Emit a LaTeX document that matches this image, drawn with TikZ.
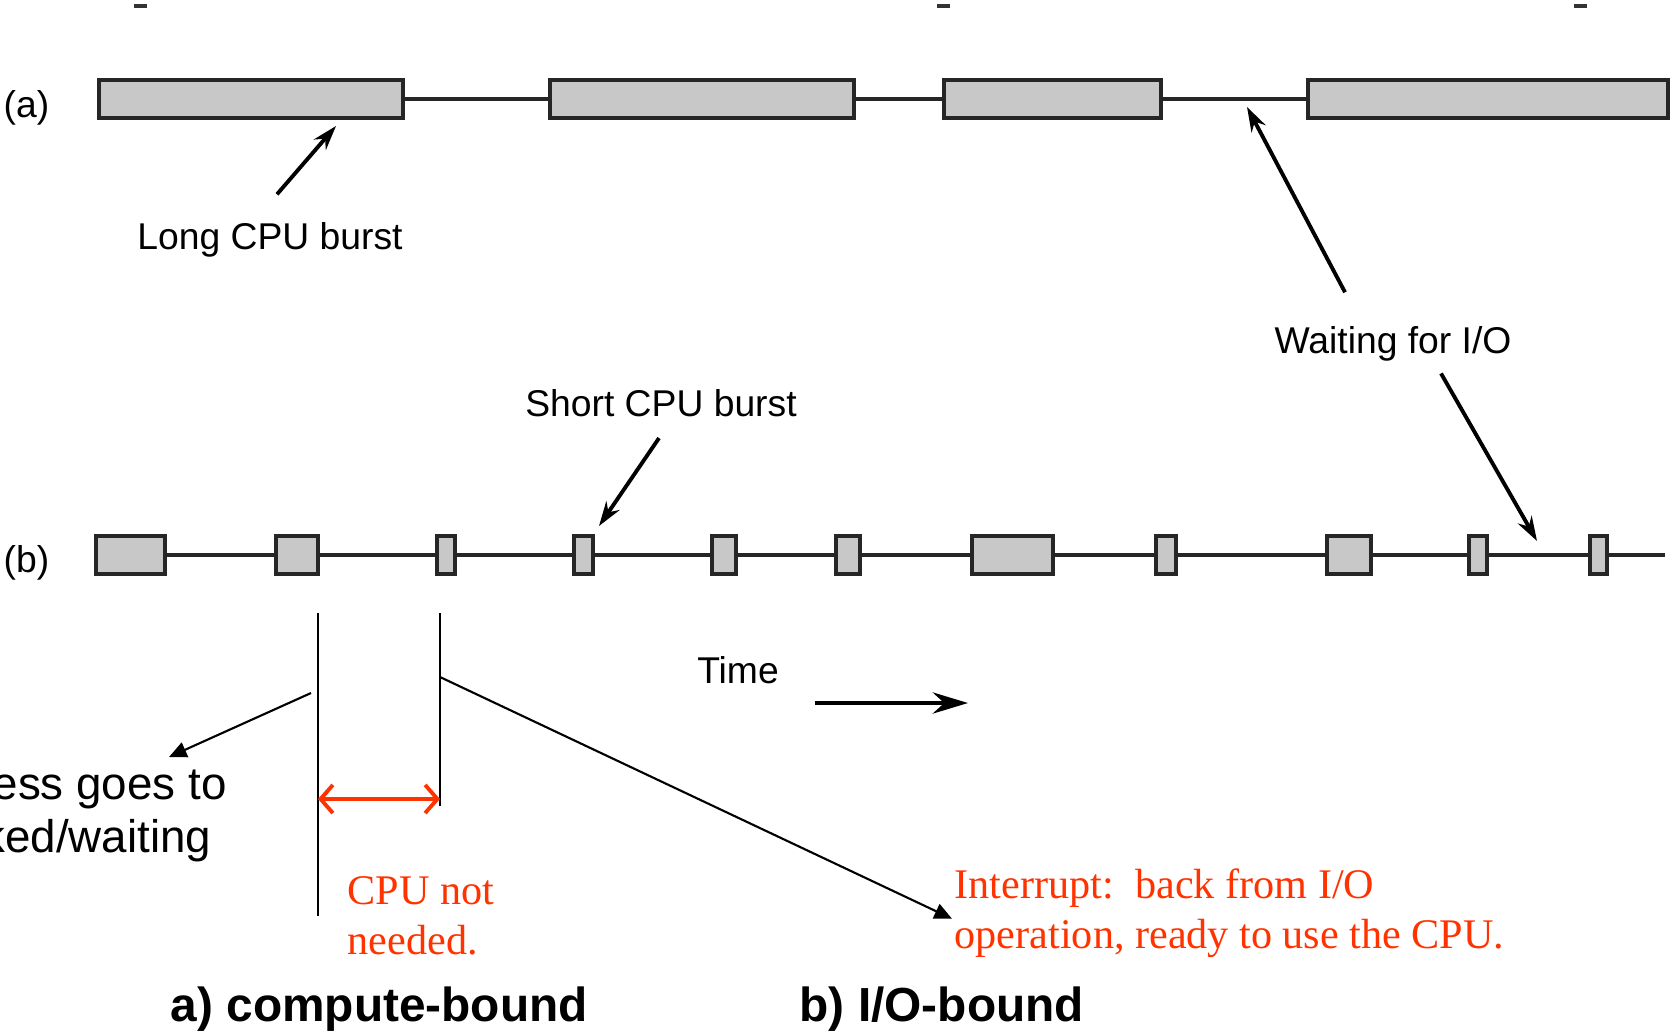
\documentclass[tikz,border=0pt]{standalone}
\usepackage{fontspec}
\setmainfont{Liberation Sans}
\newfontfamily\notefont{Liberation Serif}
\usepackage{tikz}
\usetikzlibrary{arrows.meta}
\definecolor{notered}{RGB}{255,51,0}
\definecolor{burstgray}{RGB}{200,200,200}
\tikzset{
  burst box/.style={
    draw=black!85,           % box outline
    fill=burstgray,          % CPU burst
    line width=1pt,
  },
  time line/.style={draw=black!85, line width=1pt},
  burst arrow/.style={
    -{Stealth[length=7pt,width=4.5pt]},
    line width=1.1pt,
  },
  note arrow/.style={-{Triangle[length=5pt,width=4.5pt]}, line width=0.6pt},
  idle arrow/.style={
    arrows={Straight Barb[length=3.5pt,width=8pt]-Straight Barb[length=3.5pt,width=8pt]},
    draw=notered, line width=1.1pt, line cap=round,
  },
  mark line/.style={line width=0.6pt},
  label text/.style={font=\fontsize{10.6}{12}\selectfont, inner sep=0pt},
  block text/.style={font=\fontsize{13}{15}\selectfont, align=left, inner sep=0pt},
  note text/.style={font=\notefont\fontsize{12}{14.2}\selectfont, text=notered, align=left, inner sep=0pt},
  case text/.style={font=\fontsize{13.6}{16}\selectfont\bfseries, inner sep=0pt},
}

\begin{document}
\begin{tikzpicture}[x=0.01cm, y=-0.01cm]
    % Frame of the cut-out
    \useasboundingbox (0,0) rectangle (1671,1033);
    \clip (0,0) rectangle (1671,1033);

    % Marks left at the top edge
    \foreach \t in {134, 937, 1574}
      \fill[black!80] (\t,4) rectangle ++(13,4);

    % (a) compute-bound
    \node[label text, anchor=base west] (rowa) at (3,117) {(a)};
    \draw[time line] (403,99) -- (1308,99);
    \foreach \l/\r in {99/403, 550/854, 944/1161, 1308/1668}
      \draw[burst box] (\l,80) rectangle (\r,118);

    % (b) I/O-bound
    \node[label text, anchor=base west] (rowb) at (3,572) {(b)};
    \draw[time line] (165,555) -- (1665,555);
    \foreach \l/\r in {96/165, 276/318, 437/455, 574/593, 712/736, 836/860,
                       972/1053, 1156/1176, 1327/1371, 1469/1487, 1590/1607}
      \draw[burst box] (\l,536) rectangle (\r,574);

    % Labels with their pointers
    \node[label text, anchor=base] (long) at (270,249) {Long CPU burst};
    \node[label text, anchor=base] (wait) at (1393,353) {Waiting for I/O};
    \node[label text, anchor=base] (short) at (661,416) {Short CPU burst};
    \coordinate (long-tip) at (336,126);
    \coordinate (wait-tip-a) at (1247,107);
    \coordinate (wait-tip-b) at (1537,541);
    \coordinate (short-tip) at (599,526);
    \draw[burst arrow] ([shift={(7,-27)}]long.north) -- (long-tip);
    \draw[burst arrow] ([shift={(-48,-33)}]wait.north) -- (wait-tip-a);
    \draw[burst arrow] ([shift={(48,12)}]wait.south) -- (wait-tip-b);
    \draw[burst arrow] ([shift={(-2,21)}]short.south) -- (short-tip);

    % Time axis
    \node[label text, anchor=base] (time) at (738,683) {Time};
    \coordinate (time-from) at (815,703);
    \coordinate (time-to) at (968,703);
    \draw[-{Stealth[length=10pt,width=6pt]}, line width=1.3pt] (time-from) -- (time-to);

    % Idle gap of the CPU
    \coordinate (off) at (318,613);
    \coordinate (off-end) at (318,916);
    \coordinate (on) at (440,613);
    \coordinate (on-end) at (440,806);
    \draw[mark line] (off) -- (off-end);
    \draw[mark line] (on) -- (on-end);
    \draw[idle arrow] (off |- 0,799) -- (on |- 0,799);
    \node[note text, anchor=base west] (idle) at (347,954) {CPU not\\needed.};

    % Blocked and interrupt notes
    \node[block text, anchor=base west] (blocked) at (-102,852) {Process goes to\\blocked/waiting};
    \coordinate (block-from) at (311,693);
    \coordinate (block-tip) at (169,757);
    \draw[note arrow] (block-from) -- (block-tip);
    \node[note text, anchor=base west] (intr) at (954,948)
      {Interrupt:\ \ back from I/O\\operation, ready to use the CPU.};
    \draw[note arrow] (on |- 0,677) -- ([shift={(-2,6)}]intr.west);

    % Captions
    \node[case text, anchor=base west] (capa) at (170,1021) {a) compute-bound};
    \node[case text, anchor=base west] (capb) at (799,1021) {b) I/O-bound};
\end{tikzpicture}
\end{document}
